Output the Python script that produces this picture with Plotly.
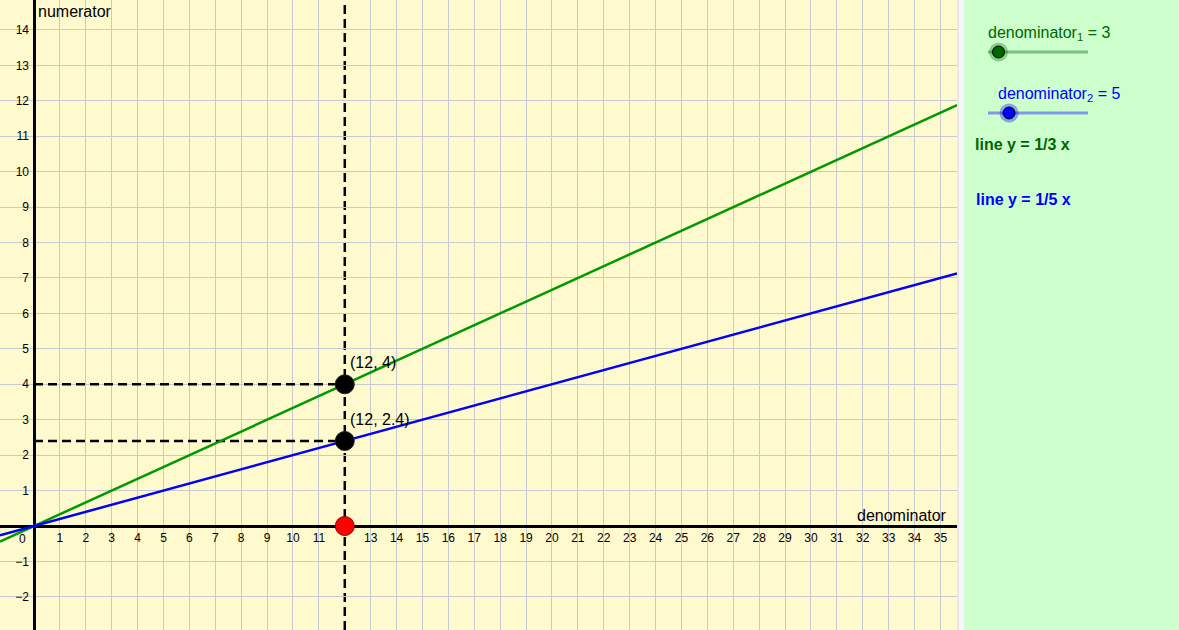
import plotly.graph_objects as go

# values
denominators = [3, 5]
line_names = ["line y = 1/3 x", "line y = 1/5 x"]
line_colors = ["#009900", "#0000ff"]
text_colors = ["#006600", "#0000ff"]
knob_colors = ["#006600", "#0000ff"]
track_colors = ["#80c080", "#8099e6"]
halo_colors = ["rgba(0,120,0,0.35)", "rgba(0,0,255,0.35)"]
x_pick = 12
slider_min, slider_max = 1, 20
x_tick_vals = [v for v in range(1, 36) if v != x_pick]  # 12 sits under the red point
y_tick_vals = [-2, -1] + list(range(1, 15))

W, H = 1179, 630
plot_right = 957 / W
x_range = [-1.313, 35.64]
y_range = [-2.935, 14.846]

FONT = "Liberation Sans, Arial, sans-serif"

fig = go.Figure()

# the two lines y = x / d
for d, c in zip(denominators, line_colors):
    fig.add_trace(go.Scatter(x=x_range, y=[x_range[0] / d, x_range[1] / d],
                             mode="lines", line=dict(color=c, width=2.5),
                             hoverinfo="skip", showlegend=False))

# dashed guides
for d in denominators:
    fig.add_shape(type="line", xref="x", yref="y", x0=0, x1=x_pick,
                  y0=x_pick / d, y1=x_pick / d, layer="between",
                  line=dict(color="black", width=2.5, dash="9px,5px"))
fig.add_shape(type="line", xref="x", yref="paper", x0=x_pick, x1=x_pick, y0=0, y1=1,
              layer="between", line=dict(color="black", width=2.5, dash="9px,5px"))

# points
pts_y = [x_pick / d for d in denominators]
fig.add_trace(go.Scatter(x=[x_pick] * len(pts_y), y=pts_y, mode="markers",
                         marker=dict(size=19, color="black", line=dict(color="#222", width=1)),
                         hoverinfo="skip", showlegend=False))
fig.add_trace(go.Scatter(x=[x_pick], y=[0], mode="markers",
                         marker=dict(size=19, color="#ff0000", line=dict(color="#880000", width=1)),
                         hoverinfo="skip", showlegend=False))

for yv in pts_y:
    lbl = "(%g, %g)" % (x_pick, yv)
    fig.add_annotation(x=x_pick, y=yv, xref="x", yref="y", text=lbl, showarrow=False,
                       xanchor="left", yanchor="bottom", xshift=3, yshift=11,
                       font=dict(family=FONT, size=16, color="black"))

# axis labels
fig.add_annotation(x=0, y=1, xref="x", yref="paper", text="numerator", showarrow=False,
                   xanchor="left", yanchor="top", xshift=2, yshift=-1,
                   font=dict(family=FONT, size=16, color="black"))
fig.add_annotation(x=plot_right, y=0, xref="paper", yref="y", text="denominator", showarrow=False,
                   xanchor="right", yanchor="bottom", xshift=-8, yshift=0,
                   font=dict(family=FONT, size=16, color="black"))
fig.add_annotation(x=0, y=0, xref="x", yref="y", text="0", showarrow=False,
                   xanchor="center", yanchor="top", xshift=-12, yshift=-4,
                   font=dict(family=FONT, size=12, color="black"))

# right panel
fig.add_shape(type="rect", xref="paper", yref="paper", x0=plot_right, x1=964 / W, y0=0, y1=1,
              fillcolor="#f6f6f9", line=dict(width=0), layer="below")
fig.add_shape(type="line", xref="paper", yref="paper", x0=958 / W, x1=958 / W, y0=0, y1=1,
              line=dict(color="#d8d8dc", width=1))
fig.add_shape(type="rect", xref="paper", yref="paper", x0=964 / W, x1=1, y0=0, y1=1,
              fillcolor="#ccffcc", line=dict(width=0), layer="below")

# sliders
slider_y = [1 - 52 / H, 1 - 113 / H]
label_x = [986 / W, 996 / W]
for i, d in enumerate(denominators):
    fig.add_trace(go.Scatter(x=[slider_min, slider_max], y=[slider_y[i]] * 2, xaxis="x2", yaxis="y2",
                             mode="lines", line=dict(color=track_colors[i], width=3),
                             hoverinfo="skip", showlegend=False))
    fig.add_trace(go.Scatter(x=[d], y=[slider_y[i]], xaxis="x2", yaxis="y2", mode="markers",
                             marker=dict(size=19, color=halo_colors[i]),
                             hoverinfo="skip", showlegend=False))
    fig.add_trace(go.Scatter(x=[d], y=[slider_y[i]], xaxis="x2", yaxis="y2", mode="markers",
                             marker=dict(size=12, color=knob_colors[i], line=dict(color="black", width=1)),
                             hoverinfo="skip", showlegend=False))
    fig.add_annotation(x=label_x[i], y=slider_y[i] + 7 / H, xref="paper", yref="paper",
                       text="denominator<sub>%d</sub> = %d" % (i + 1, d), showarrow=False,
                       xanchor="left", yanchor="bottom",
                       font=dict(family=FONT, size=16, color=text_colors[i]))

legend_y = [1 - 145 / H, 1 - 199 / H]
legend_x = [973 / W, 974 / W]
for i, name in enumerate(line_names):
    fig.add_annotation(x=legend_x[i], y=legend_y[i], xref="paper", yref="paper",
                       text="<b>%s</b>" % name, showarrow=False, xanchor="left", yanchor="middle",
                       font=dict(family=FONT, size=16, color=text_colors[i]))

x_pos = (0 - x_range[0]) / (x_range[1] - x_range[0]) * plot_right
y_pos = (0 - y_range[0]) / (y_range[1] - y_range[0])

fig.update_layout(
    width=W, height=H, autosize=False,
    margin=dict(l=0, r=0, t=0, b=0),
    paper_bgcolor="white", plot_bgcolor="#fffacd",
    showlegend=False,
    xaxis=dict(domain=[0, plot_right], range=x_range, anchor="free", position=y_pos,
               tickvals=x_tick_vals, ticks="", showline=False,
               showgrid=True, gridcolor="#c8c8d0", gridwidth=1,
               zeroline=True, zerolinecolor="black", zerolinewidth=2.5,
               tickfont=dict(family=FONT, size=12, color="black"),
               ticklabelstandoff=3, layer="below traces", fixedrange=True),
    yaxis=dict(domain=[0, 1], range=y_range, anchor="free", position=x_pos,
               tickvals=y_tick_vals, ticks="", showline=False,
               showgrid=True, gridcolor="#c8c8d0", gridwidth=1,
               zeroline=True, zerolinecolor="black", zerolinewidth=2.5,
               tickfont=dict(family=FONT, size=12, color="black"),
               ticklabelstandoff=5, layer="below traces", fixedrange=True),
    xaxis2=dict(domain=[988 / W, 1088 / W], range=[slider_min, slider_max], anchor="y2",
                visible=False, fixedrange=True),
    yaxis2=dict(domain=[0, 1], range=[0, 1], anchor="x2", visible=False, fixedrange=True),
)

fig.write_html("out.html", config={"displayModeBar": False},
               post_script="document.body.style.margin='0';")
